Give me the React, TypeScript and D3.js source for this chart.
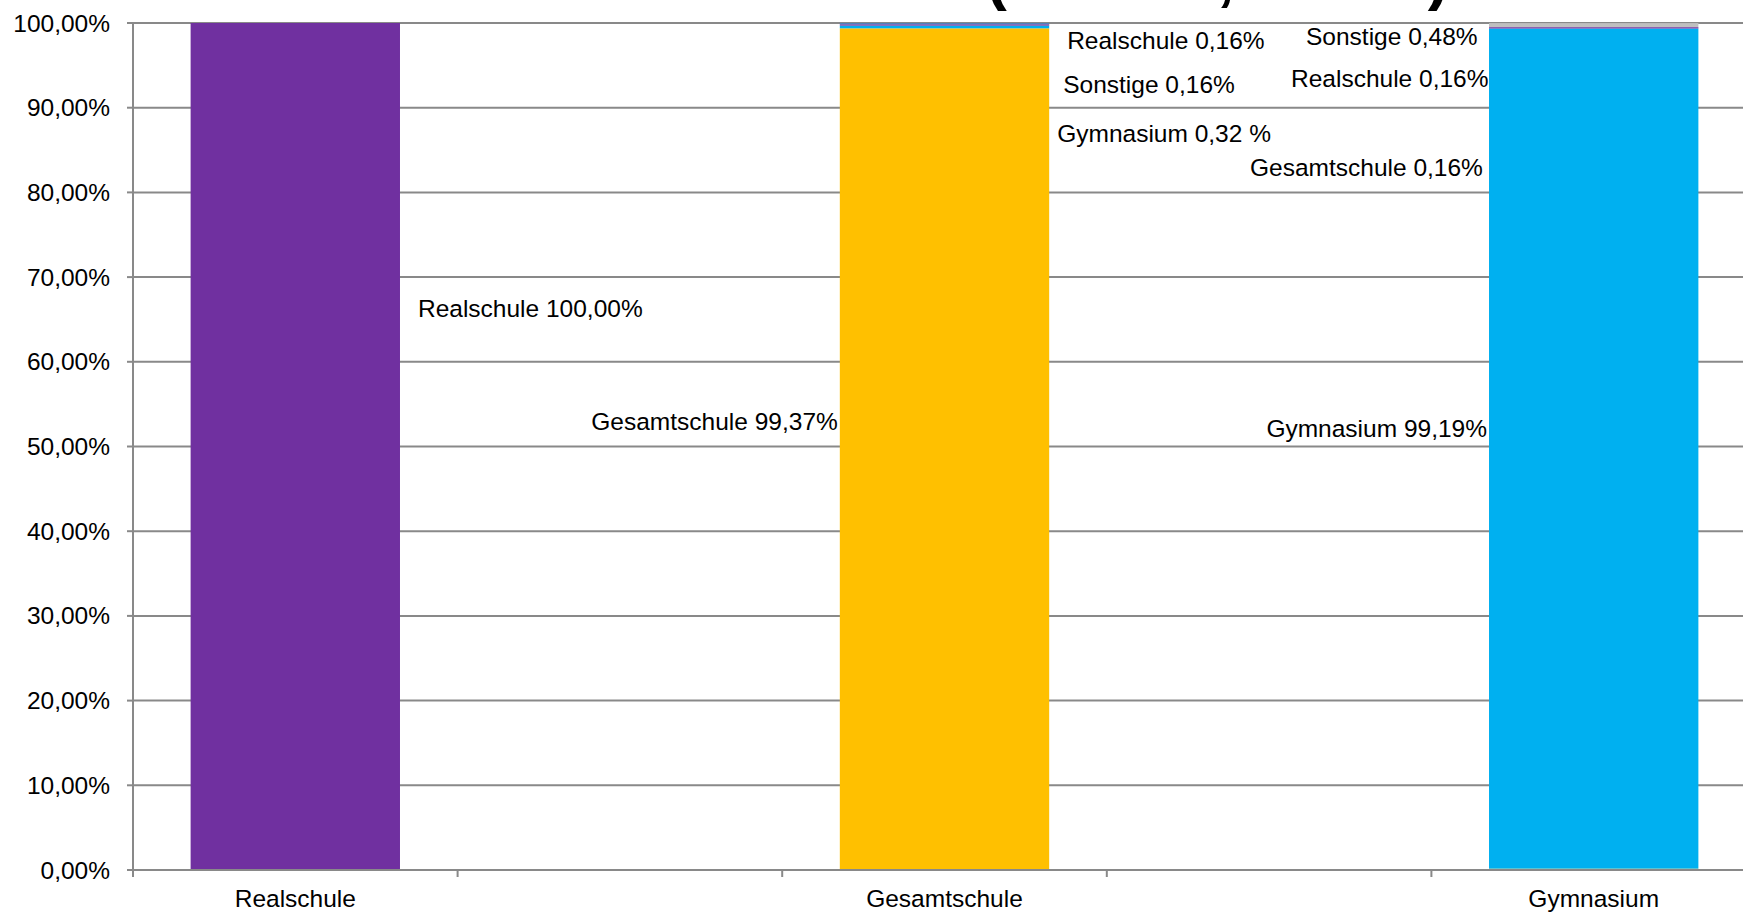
import React, { useEffect } from 'react';
import * as d3 from 'd3';

// Kategorien (Schulform der Klasse) und die Lücken dazwischen
const categories = ['Realschule', 'Gesamtschule', 'Gymnasium'];
const slots = ['Realschule', 'leer1', 'Gesamtschule', 'leer2', 'Gymnasium'];

// Reihen in Stapelreihenfolge (von unten nach oben)
const seriesNames = ['Gesamtschule', 'Gymnasium', 'Realschule', 'Sonstige'];
const gesamtschuleValues = [0, 99.37, 0.16];
const gymnasiumValues = [0, 0.32, 99.19];
const realschuleValues = [100, 0.16, 0.16];
const sonstigeValues = [0, 0.16, 0.48];

const yTicks = [0, 10, 20, 30, 40, 50, 60, 70, 80, 90, 100];

const seriesColors: Record<string, string> = {
  Gesamtschule: '#FFC000',
  Gymnasium: '#00B0F0',
  Realschule: '#7030A0',
  Sonstige: '#BFBFBF',
};
// "Sonstige" ist im Gesamtschul-Balken blau eingefärbt
const pointColors: Record<string, string> = {
  'Gesamtschule|Sonstige': '#4F81BD',
};

// Datenbeschriftungen: welche Reihe, Höhe in % und Abstand zum Balken
const labels = [
  { category: 'Realschule', series: 'Realschule', sep: ' ', yPct: 65.3, side: 'right', dx: 18 },
  { category: 'Gesamtschule', series: 'Gesamtschule', sep: ' ', yPct: 51.95, side: 'left', dx: -2 },
  { category: 'Gymnasium', series: 'Gymnasium', sep: ' ', yPct: 51.1, side: 'left', dx: -2 },
  { category: 'Gesamtschule', series: 'Realschule', sep: ' ', yPct: 96.9, side: 'right', dx: 18 },
  { category: 'Gesamtschule', series: 'Sonstige', sep: ' ', yPct: 91.75, side: 'right', dx: 14 },
  { category: 'Gesamtschule', series: 'Gymnasium', sep: ' ', yPct: 85.95, side: 'right', dx: 8, pctSep: ' ' },
  { category: 'Gymnasium', series: 'Sonstige', sep: ' ', yPct: 97.4, side: 'left', dx: -183 },
  { category: 'Gymnasium', series: 'Realschule', sep: ' ', yPct: 92.45, side: 'left', dx: -198 },
  { category: 'Gymnasium', series: 'Gesamtschule', sep: ' ', yPct: 81.9, side: 'left', dx: -239 },
];

const FONT = "'Liberation Sans', Arial, sans-serif";

const App: React.FC = () => {
  useEffect(() => {
    document.body.style.margin = '0';
  }, []);

  const W = 1743;
  const H = 914;
  const left = 133;
  const top = 23;
  const bottom = 870;
  const right = left + 5 * 324.6;

  const x = d3.scaleBand().domain(slots).range([left, right]).padding(0);
  const y = d3.scaleLinear().domain([0, 100]).range([bottom, top]);
  const barW = x.bandwidth() * 0.645;
  const barX = (c: string) => (x(c) || 0) + (x.bandwidth() - barW) / 2;

  const valueOf: Record<string, number[]> = {
    Gesamtschule: gesamtschuleValues,
    Gymnasium: gymnasiumValues,
    Realschule: realschuleValues,
    Sonstige: sonstigeValues,
  };
  const rows = categories.map((c, i) => {
    const r: any = { category: c };
    seriesNames.forEach((s) => (r[s] = valueOf[s][i]));
    return r;
  });
  const stacked = d3.stack<any>().keys(seriesNames)(rows);

  const fmt = (v: number) => d3.format('.2f')(v).replace('.', ',');

  return (
    <svg width={W} height={H} style={{ display: 'block', background: '#fff' }} fontFamily={FONT}>
      {/* Titel – liegt oberhalb des Bildes, nur die Unterlängen ragen hinein */}
      <text x={1449} y={-2} textAnchor="end" fontSize={64} fontWeight="bold" fill="#000">
        Verbleib nach Klasse 10 (Schule, Anteil)
      </text>

      {/* Gitternetzlinien */}
      {yTicks.map((t) => (
        <line key={'g' + t} x1={left} x2={right} y1={y(t)} y2={y(t)} stroke="#898989" strokeWidth={2} />
      ))}

      {/* gestapelte Balken */}
      {stacked.map((layer) =>
        layer.map((d, i) => {
          const c = categories[i];
          const h = y(d[0]) - y(d[1]);
          if (h <= 0) return null;
          return (
            <rect
              key={layer.key + c}
              x={barX(c)}
              y={y(d[1])}
              width={barW}
              height={h}
              fill={pointColors[c + '|' + layer.key] || seriesColors[layer.key]}
            />
          );
        })
      )}

      {/* Y-Achse */}
      <line x1={left} x2={left} y1={top - 1} y2={bottom + 7} stroke="#898989" strokeWidth={2} />
      {yTicks.map((t) => (
        <g key={'t' + t}>
          <line x1={left - 6} x2={left} y1={y(t)} y2={y(t)} stroke="#898989" strokeWidth={2} />
          <text x={110} y={y(t) + 8.5} textAnchor="end" fontSize={24.5} fill="#000">
            {fmt(t)}%
          </text>
        </g>
      ))}

      {/* X-Achse */}
      <line x1={left} x2={right} y1={bottom} y2={bottom} stroke="#898989" strokeWidth={2} />
      {slots.map((s) => (
        <line key={'xt' + s} x1={x(s)} x2={x(s)} y1={bottom} y2={bottom + 7} stroke="#898989" strokeWidth={2} />
      ))}
      {categories.map((c) => (
        <text key={'xl' + c} x={(x(c) || 0) + x.bandwidth() / 2} y={907} textAnchor="middle" fontSize={24.5} fill="#000">
          {c}
        </text>
      ))}

      {/* Datenbeschriftungen */}
      {labels.map((l, i) => {
        const ci = categories.indexOf(l.category);
        const v = valueOf[l.series][ci];
        const edge = l.side === 'right' ? barX(l.category) + barW : barX(l.category);
        const anchor = l.dx < 0 && l.dx > -10 ? 'end' : 'start';
        return (
          <text key={'dl' + i} x={edge + l.dx} y={y(l.yPct)} textAnchor={anchor} fontSize={24.5} fill="#000">
            {l.series + l.sep + fmt(v) + (l.pctSep || '') + '%'}
          </text>
        );
      })}
    </svg>
  );
};

export default App;
